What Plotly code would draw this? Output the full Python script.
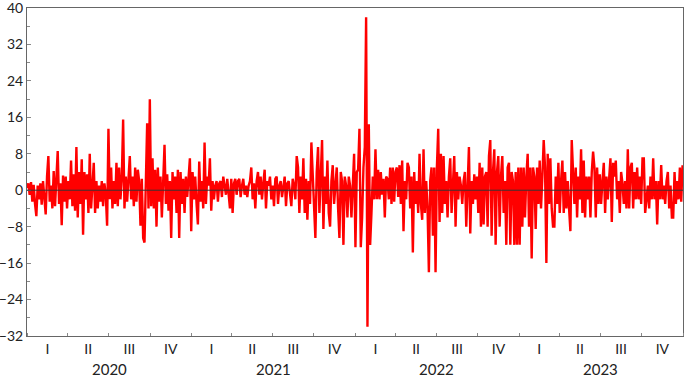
import pandas as pd
import plotly.graph_objects as go

# Daily-ish series values, one list per year
v2020 = [0.5, 1.5, -1.0, 1.8, -2.5, 1.2, -3.0, -5.7, 1.0, -2.0, 1.5, -3.2, 2.0, -1.5, -5.3, 3.0,
         7.5, -2.5, 1.0, -4.0, 4.2, -3.5, 2.5, 8.6, -3.0, 1.5, -7.7, 3.2, -2.5, 3.0, -4.0, 2.0,
         -2.0, 6.5, -3.5, 3.5, -4.5, 9.5, -6.0, 4.0, -3.0, 6.8, -9.8, 4.0, -2.0, 3.5, -5.0, 8.0,
         -4.0, 2.5, 6.0, -5.0, 2.0, -4.0, 1.0, -2.5, 2.0, -3.5, 1.5, -1.0, -7.8, 13.5, -2.0, 5.0,
         -4.0, 2.0, -3.0, 6.0, -3.5, 5.0, -2.0, 2.5, 15.5, -4.0, 3.0, -2.5, 4.0, 7.5, -2.0, 3.0,
         -3.5, 5.0, -2.5, 4.5, 2.0, -7.8, 2.5, -10.5, -11.5, 3.0, 14.7, -4.0, 20.0, -3.5, 7.0, -4.0,
         4.5, -8.0, 5.0, -2.5, 3.0, -6.0, 1.0, 10.0, -3.0, 3.5, -4.5, 2.0, -10.5, 4.0, -2.0, 3.0,
         -5.0, 4.5, -10.5, 4.0, -3.0, 2.5, -5.0, 3.0, -1.5, 4.0, 7.0]
v2021 = [-9.0, 4.0, -2.0, 3.0, -3.0, -7.5, 6.3, -2.5, 2.0, -4.0, 10.5, -3.0, 3.0, 1.0, 7.0, -4.5,
         2.0, -2.0, 1.0, 2.0, -2.5, 1.5, 2.0, -1.5, 3.0, 1.0, -1.0, 2.5, -2.0, -4.0, 2.5, -5.0,
         1.5, 2.5, -1.0, 2.0, 2.5, -1.5, 1.0, 2.5, -1.0, 1.0, -1.5, 1.0, 2.0, 5.0, -2.0, 1.5,
         -4.0, 2.0, 4.0, -1.0, 3.0, -2.0, 1.5, 4.5, -4.0, 2.0, 1.0, 3.0, -2.0, 1.0, -3.5, 2.5,
         3.0, -3.0, 1.0, 2.0, -1.5, 1.0, 3.0, -3.5, 1.5, 2.0, -1.0, -3.5, 2.5, 1.0, -2.0, 7.5,
         5.0, -5.0, 3.0, -2.0, 7.0, -5.0, 2.5, -6.5, 2.0, -3.0, 10.5, 3.0, -6.0, -10.5, 4.0, 9.5,
         -5.0, 4.0, 11.0, -8.5, 3.0, -3.0, 6.5, -5.0, -8.0, 2.0, 5.5, -3.0, 2.5, 5.0, -4.0, -10.5,
         4.0, 2.0, -12.0, 3.0, 1.0, -6.0, 3.0, 1.0, -6.0, 2.0, 8.0]
v2022 = [-12.5, 4.0, 4.5, 13.5, -12.5, -6.0, 5.0, 9.5, 38.0, -30.0, 14.5, -12.0, -5.0, 3.0, -2.0, 9.0,
         -2.0, 4.5, -2.0, 4.0, -1.0, 2.5, -6.0, 3.0, 2.5, -2.0, 5.0, -3.0, 5.0, -2.5, 4.0, 5.0,
         -1.5, 5.5, -3.0, 6.5, -9.0, 2.0, -2.0, 6.0, 5.0, -4.0, 3.0, -13.7, 4.0, -3.0, 2.0, -5.0,
         8.0, -3.0, -6.5, 9.0, -5.0, 2.0, -4.0, -18.0, 2.0, 5.0, -10.0, 5.0, -18.0, 5.0, 13.5, -7.0,
         8.0, -5.0, 7.5, -3.0, 2.0, -6.0, 3.0, 7.0, -5.0, 3.0, 7.5, -8.0, 4.0, -2.0, 3.0, 1.0,
         -3.0, 2.0, 4.0, -8.0, 2.0, 9.5, -9.5, 2.0, -3.0, 3.5, -2.0, 3.0, -5.0, 6.0, -8.0, 5.0,
         -7.5, 3.0, 4.0, -8.0, 7.5, 11.0, -10.0, 4.0, 9.0, -12.0, 4.0, 7.5, -8.0, 3.0, 7.5, -5.0,
         2.0, -12.0, 5.0, 6.0, -12.0, 4.0, 2.0, -12.0, 4.0, -12.0, 5.0]
v2023 = [-12.0, 5.0, -8.0, 5.0, -6.0, 3.0, 8.0, -8.0, 5.0, -15.0, 5.0, 3.0, -8.5, 5.0, -3.0, 6.5,
         -4.0, 3.0, 11.0, 5.0, -16.0, 8.0, -3.0, 7.0, -4.0, -8.0, -8.0, 3.0, -3.0, 6.0, -5.0, 2.0,
         6.5, -5.0, 4.0, -4.0, 2.0, -4.0, -9.0, 11.0, 2.0, -3.0, 5.0, -6.0, 3.0, -2.0, 9.0, -5.0,
         6.5, -6.0, 3.0, -2.0, 3.0, -6.0, 4.0, 8.5, 5.0, -6.0, 5.0, -3.0, 3.5, -3.0, 2.0, 6.0,
         -5.0, 3.0, -2.0, 4.0, 7.0, -7.0, 6.0, 3.0, 6.5, -2.0, 2.0, -5.0, 4.0, 1.5, -3.0, 2.0,
         -4.0, 9.0, -4.0, 5.0, 6.0, -4.0, 4.0, -2.0, 5.0, -2.0, 3.0, -3.0, 7.0, 7.0, -5.0, -2.0,
         1.0, -4.0, 3.0, -2.0, 7.0, -2.0, 2.0, -7.5, 2.0, -2.0, 5.5, -2.0, 1.0, -3.0, 2.0, 4.0,
         -4.0, 1.0, -6.0, -6.0, 4.0, -3.0, 2.0, -2.0, 5.0, -2.5, 5.5]

years = ["2020", "2021", "2022", "2023"]
quarters = ["I", "II", "III", "IV"]
y_ticks = [-32, -24, -16, -8, 0, 8, 16, 24, 32, 40]

values = v2020 + v2021 + v2022 + v2023
dates = pd.date_range("2020-01-01", "2023-12-31", periods=len(values))

q_mid = []
q_text = []
for y in years:
    for qi, q in enumerate(quarters):
        start = pd.Timestamp(f"{y}-{3 * qi + 1:02d}-01")
        end = start + pd.DateOffset(months=3)
        q_mid.append(start + (end - start) / 2)
        q_text.append(q)

fig = go.Figure()
fig.add_trace(go.Scatter(x=dates, y=values, mode="lines",
                         line=dict(color="#FF0000", width=2.4), showlegend=False))

fig.add_shape(type="line", xref="paper", x0=0, x1=1, yref="y", y0=0, y1=0,
              line=dict(color="#333333", width=1), layer="above")

for y in years:
    fig.add_annotation(x=pd.Timestamp(f"{y}-07-02"), xref="x", y=0, yref="paper",
                       yshift=-33, text=y, showarrow=False, yanchor="middle",
                       font=dict(family="Lato", size=15, color="#222222"))

fig.update_layout(
    width=685, height=377,
    margin=dict(l=27, r=2, t=8, b=41, autoexpand=False),
    paper_bgcolor="white", plot_bgcolor="white",
    font=dict(family="Lato", size=14, color="#222222"),
    xaxis=dict(type="date", range=["2020-01-01", "2024-01-01"], automargin=False,
               tickmode="array", tickvals=q_mid, ticktext=q_text, ticks="",
               showgrid=False, zeroline=False,
               showline=True, linecolor="#666666", linewidth=1, mirror=True,
               minor=dict(tick0="2020-01-01", dtick="M3", ticks="inside", ticklen=3,
                          tickcolor="#888888", showgrid=False),
               tickfont=dict(size=14)),
    yaxis=dict(range=[-32.02, 40.02], tickmode="array", tickvals=y_ticks, automargin=False,
               ticklabeloverflow="allow",
               ticks="inside", ticklen=4, tickcolor="#888888",
               showgrid=False, zeroline=False,
               showline=True, linecolor="#666666", linewidth=1, mirror=True,
               minor=dict(dtick=4, tick0=0, ticks="inside", ticklen=3,
                          tickcolor="#888888", showgrid=False),
               tickfont=dict(size=14)),
)

fig.write_html("out.html", config={"displayModeBar": False},
               post_script="document.body.style.margin='0';document.body.style.overflow='hidden';")
